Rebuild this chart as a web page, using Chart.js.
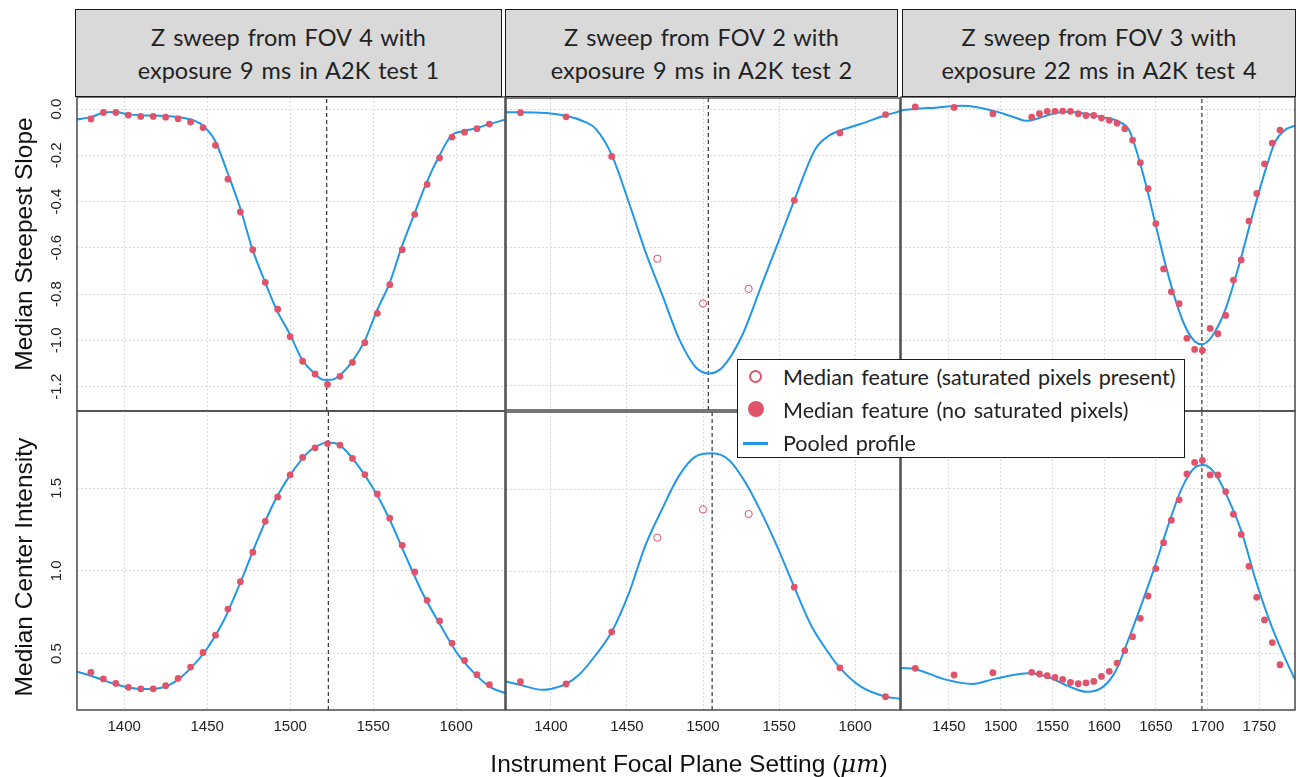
<!DOCTYPE html>
<html>
<head>
<meta charset="utf-8">
<script src="https://cdn.jsdelivr.net/npm/chart.js@4.4.1/dist/chart.umd.min.js"></script>
<style>
  body { margin: 0; width: 1300px; height: 777px; position: relative; overflow: hidden; background: #fff;
         font-family: "Liberation Sans", Arial, sans-serif; color: #111; }
  canvas { position: absolute; }
  .strip { position: absolute; box-sizing: border-box; top: 9px; height: 88px; background: #d9d9d9;
           border: 1.5px solid #1a1a1a; font-family: Lato, sans-serif; font-size: 23.5px; word-spacing: 2px;
           line-height: 33px; text-align: center; padding-top: 11px; color: #222; }
  .ytitle { position: absolute; font-size: 24.5px; white-space: nowrap; transform: translate(-50%, -50%) rotate(-90deg); }
  .xtitle { position: absolute; font-size: 24.5px; white-space: nowrap; transform: translate(-50%, -50%); }
  #legend { position: absolute; left: 737px; top: 359px; width: 448px; height: 99px; box-sizing: border-box;
            background: #fff; border: 1.5px solid #1a1a1a; font-family: Lato, sans-serif; font-size: 21.5px;
            word-spacing: 2px; color: #222; }
  .item { position: absolute; left: 45px; height: 33px; line-height: 33px; white-space: nowrap; }
  .mark { position: absolute; box-sizing: border-box; }
</style>
</head>
<body>
<script>
// facet titles
const stripTitles = [
  ['Z sweep from FOV 4 with', 'exposure 9 ms in A2K test 1'],
  ['Z sweep from FOV 2 with', 'exposure 9 ms in A2K test 2'],
  ['Z sweep from FOV 3 with', 'exposure 22 ms in A2K test 4']
];
const yTitles = ['Median Steepest Slope', 'Median Center Intensity'];
const legendLabels = ['Median feature (saturated pixels present)', 'Median feature (no saturated pixels)', 'Pooled profile'];

// axis limits
const xRangeCol1 = [1371.6, 1629.4];
const xRangeCol2 = [1370.5, 1629.5];
const xRangeCol3 = [1403.7, 1784.5];
const slopeRange = [-1.305, 0.052];
const intensityRange = [0.158, 1.968];

// best focus (dashed lines)
const focusTop = [1522, 1503.5, 1694.5];
const focusBottom = [1523, 1506, 1694.5];

// sweep 1
const zCol1 = [1380, 1387.5, 1395, 1402.5, 1410, 1417.5, 1425, 1432.5, 1440, 1447.5, 1455, 1462.5, 1470, 1477.5, 1485, 1492.5,
  1500, 1507.5, 1515, 1522.5, 1530, 1537.5, 1545, 1552.5, 1560, 1567.5, 1575, 1582.5, 1590, 1597.5, 1605, 1612.5, 1620];
const slopeCol1 = [-0.043, -0.015, -0.015, -0.026, -0.032, -0.032, -0.035, -0.042, -0.056, -0.08, -0.157, -0.303, -0.445, -0.608,
  -0.749, -0.865, -0.984, -1.09, -1.145, -1.19, -1.155, -1.095, -1.01, -0.883, -0.759, -0.608, -0.455, -0.326, -0.211, -0.121,
  -0.1, -0.085, -0.065];
const intensityCol1 = [0.386, 0.346, 0.319, 0.295, 0.286, 0.286, 0.305, 0.35, 0.418, 0.506, 0.611, 0.769, 0.935, 1.113, 1.3,
  1.448, 1.581, 1.687, 1.745, 1.771, 1.761, 1.681, 1.583, 1.466, 1.319, 1.155, 0.994, 0.822, 0.697, 0.563, 0.458, 0.372, 0.311];

// sweep 2
const zCol2 = [1380, 1410, 1440, 1470, 1500, 1530, 1560, 1590, 1620];
const slopeCol2 = [-0.012, -0.03, -0.202, -0.647, -0.842, -0.778, -0.393, -0.1, -0.02];
const intensityCol2 = [0.33, 0.316, 0.633, 1.205, 1.376, 1.348, 0.904, 0.414, 0.239];
const saturatedCol2 = [0, 0, 0, 1, 1, 1, 0, 0, 0];

// sweep 3
const zCol3 = [1417.5, 1455, 1492.5, 1530, 1537.5, 1545, 1552.5, 1560, 1567.5, 1575, 1582.5, 1590, 1597.5, 1605, 1612.5,
  1620, 1627.5, 1635, 1642.5, 1650, 1657.5, 1665, 1672.5, 1680, 1687.5, 1695, 1702.5, 1710, 1717.5, 1725, 1732.5, 1740,
  1747.5, 1755, 1762.5, 1770];
const slopeCol3 = [0.009, 0.007, -0.02, -0.035, -0.02, -0.01, -0.01, -0.009, -0.01, -0.02, -0.028, -0.028, -0.039, -0.049,
  -0.061, -0.085, -0.134, -0.232, -0.344, -0.495, -0.691, -0.79, -0.841, -0.991, -1.039, -1.043, -0.948, -0.971, -0.892,
  -0.739, -0.652, -0.484, -0.365, -0.237, -0.147, -0.091];
const intensityCol3 = [0.41, 0.37, 0.384, 0.386, 0.376, 0.366, 0.355, 0.343, 0.325, 0.317, 0.322, 0.331, 0.361, 0.392, 0.442,
  0.518, 0.602, 0.713, 0.848, 1.014, 1.171, 1.307, 1.43, 1.587, 1.657, 1.669, 1.581, 1.581, 1.48, 1.343, 1.221, 1.028, 0.84,
  0.703, 0.566, 0.432];

// pooled profiles
const slopeCurveZ1 = [1371.6, 1380, 1388, 1395, 1402, 1410, 1425, 1440, 1447.5, 1455, 1462, 1470, 1477, 1485, 1492, 1500, 1507,
  1515, 1520, 1525, 1530, 1537, 1545, 1552, 1560, 1567, 1575, 1582, 1590, 1597, 1605, 1612, 1620, 1629.4];
const slopeCurve1 = [-0.045, -0.035, -0.015, -0.013, -0.022, -0.027, -0.03, -0.045, -0.072, -0.14, -0.27, -0.43, -0.6, -0.75,
  -0.87, -0.975, -1.08, -1.145, -1.17, -1.17, -1.15, -1.095, -1.0, -0.875, -0.75, -0.6, -0.45, -0.32, -0.2, -0.115, -0.095,
  -0.083, -0.065, -0.046];
const intensityCurveZ1 = [1371.6, 1380, 1390, 1400, 1410, 1420, 1430, 1440, 1450, 1460, 1470, 1480, 1490, 1500, 1510, 1515,
  1523, 1530, 1540, 1550, 1560, 1570, 1580, 1590, 1600, 1610, 1620, 1629.4];
const intensityCurve1 = [0.39, 0.365, 0.33, 0.3, 0.285, 0.288, 0.325, 0.41, 0.53, 0.7, 0.93, 1.18, 1.41, 1.58, 1.71, 1.75,
  1.778, 1.76, 1.65, 1.5, 1.31, 1.08, 0.86, 0.68, 0.51, 0.39, 0.3, 0.26];

const slopeCurveZ2 = [1370.5, 1380, 1410, 1423, 1429.5, 1440, 1451.5, 1462.5, 1473.5, 1484.5, 1495.5, 1504, 1512.5, 1525.5,
  1539, 1550, 1560, 1574, 1583, 1590, 1603.5, 1620, 1629.5];
const slopeCurve2 = [-0.01, -0.01, -0.025, -0.054, -0.082, -0.195, -0.407, -0.623, -0.81, -0.999, -1.121, -1.146, -1.121,
  -0.984, -0.753, -0.566, -0.393, -0.169, -0.111, -0.09, -0.061, -0.023, -0.006];
const intensityCurveZ2 = [1370.5, 1380, 1394.5, 1400, 1410, 1418.5, 1429.5, 1440, 1451.5, 1462, 1473, 1484, 1495, 1506, 1517,
  1527.5, 1538.5, 1549.5, 1560, 1571, 1582, 1590, 1603.5, 1620, 1629.5];
const intensityCurve2 = [0.331, 0.31, 0.281, 0.286, 0.316, 0.372, 0.492, 0.633, 0.873, 1.155, 1.376, 1.577, 1.697, 1.717,
  1.677, 1.546, 1.355, 1.135, 0.904, 0.673, 0.512, 0.414, 0.301, 0.239, 0.227];

const slopeCurveZ3 = [1403.7, 1418, 1437, 1463, 1476, 1495, 1511, 1525.5, 1540, 1553, 1566, 1582, 1598, 1614, 1624, 1630,
  1640, 1649.5, 1659, 1669, 1678.5, 1688, 1694.5, 1704, 1717, 1730, 1743, 1756, 1765.5, 1775, 1784.5];
const slopeCurve3 = [-0.006, 0.001, 0.006, 0.014, 0.009, -0.01, -0.032, -0.051, -0.035, -0.017, -0.012, -0.02, -0.035,
  -0.054, -0.09, -0.162, -0.32, -0.494, -0.667, -0.826, -0.941, -1.006, -1.017, -0.984, -0.869, -0.681, -0.465, -0.263,
  -0.14, -0.09, -0.072];
const intensityCurveZ3 = [1403.7, 1417.5, 1447, 1472.5, 1495, 1527, 1546.5, 1566, 1583.5, 1599.5, 1611, 1624, 1636.5, 1649.5,
  1662.5, 1675.5, 1688, 1696, 1707.5, 1720, 1733, 1746, 1759, 1772, 1784.5];
const intensityCurve3 = [0.412, 0.405, 0.342, 0.316, 0.348, 0.38, 0.356, 0.301, 0.268, 0.301, 0.392, 0.593, 0.804, 1.035,
  1.286, 1.506, 1.627, 1.641, 1.587, 1.436, 1.235, 0.954, 0.713, 0.512, 0.342];

const pointColor = '#DF536B';
const lineColor = '#2297E6';

// panel geometry (plot area in page pixels)
const COLS = [{ L: 77, R: 505 }, { L: 505, R: 901 }, { L: 901, R: 1295 }];
const ROWS = [{ T: 97, B: 411 }, { T: 411, B: 710 }];
const PAD = 4;

const panelBox = {
  id: 'panelBox',
  afterDraw(chart) {
    const { ctx, chartArea: a } = chart;
    ctx.save();
    ctx.strokeStyle = '#4a4a4a';
    ctx.lineWidth = 1.5;
    ctx.strokeRect(a.left, a.top, a.right - a.left, a.bottom - a.top);
    ctx.restore();
  }
};

function xy(xs, ys) {
  return xs.map((x, i) => ({ x: x, y: ys[i] }));
}

function makePanel(col, row, xRange, yRange, zs, vals, sat, curveZ, curveV, focus) {
  const c = COLS[col], r = ROWS[row];
  const axisW = col === 0 ? 70 : 0;
  const axisH = row === 1 ? 34 : 0;
  const w = c.R - c.L + axisW + 2 * PAD;
  const h = r.B - r.T + axisH + 2 * PAD;
  const cv = document.createElement('canvas');
  cv.width = w; cv.height = h;
  cv.style.left = (c.L - axisW - PAD) + 'px';
  cv.style.top = (r.T - PAD) + 'px';
  cv.style.width = w + 'px';
  cv.style.height = h + 'px';
  document.body.appendChild(cv);

  const isSat = i => sat && sat[i] === 1;

  new Chart(cv, {
    type: 'scatter',
    data: {
      datasets: [{
        data: xy(zs, vals),
        pointRadius: i => isSat(i.dataIndex) ? 3.6 : 3.4,
        pointBackgroundColor: i => isSat(i.dataIndex) ? 'rgba(255,255,255,0)' : pointColor,
        pointBorderColor: pointColor,
        pointBorderWidth: i => isSat(i.dataIndex) ? 1 : 0,
        showLine: false
      }, {
        data: xy(curveZ, curveV),
        showLine: true,
        borderColor: lineColor,
        borderWidth: 2,
        pointRadius: 0,
        cubicInterpolationMode: 'monotone'
      }, {
        data: [{ x: focus, y: yRange[0] }, { x: focus, y: yRange[1] }],
        showLine: true,
        borderColor: '#333',
        borderWidth: 1.2,
        borderDash: [4, 3],
        pointRadius: 0
      }]
    },
    options: {
      responsive: false,
      animation: false,
      layout: { padding: PAD },
      plugins: { legend: { display: false }, tooltip: { enabled: false } },
      scales: {
        x: {
          type: 'linear',
          min: xRange[0],
          max: xRange[1],
          afterFit: s => { s.height = axisH; s.paddingLeft = 0; s.paddingRight = 0; },
          grid: { color: '#d9d9d9', lineWidth: 1, drawTicks: false },
          border: { display: false, dash: [2, 2] },
          ticks: {
            display: row === 1,
            stepSize: 50,
            includeBounds: false,
            maxRotation: 0,
            autoSkip: false,
            padding: 8,
            color: '#222',
            font: { family: 'Liberation Sans', size: 15 },
            callback: v => String(v)
          }
        },
        y: {
          type: 'linear',
          min: yRange[0],
          max: yRange[1],
          afterFit: s => { s.width = axisW; s.paddingTop = 0; s.paddingBottom = 0; },
          grid: { color: '#d9d9d9', lineWidth: 1, drawTicks: false },
          border: { display: false, dash: [2, 2] },
          ticks: {
            display: col === 0,
            stepSize: row === 0 ? 0.2 : 0.5,
            includeBounds: false,
            minRotation: 90,
            maxRotation: 90,
            crossAlign: 'center',
            padding: row === 0 ? 7 : 9.5,
            color: '#222',
            font: { family: 'Liberation Sans', size: 15 },
            callback: v => (Math.abs(v) < 1e-9 ? 0 : v).toFixed(1)
          }
        }
      }
    },
    plugins: [panelBox]
  });
}

makePanel(0, 0, xRangeCol1, slopeRange, zCol1, slopeCol1, null, slopeCurveZ1, slopeCurve1, focusTop[0]);
makePanel(1, 0, xRangeCol2, slopeRange, zCol2, slopeCol2, saturatedCol2, slopeCurveZ2, slopeCurve2, focusTop[1]);
makePanel(2, 0, xRangeCol3, slopeRange, zCol3, slopeCol3, null, slopeCurveZ3, slopeCurve3, focusTop[2]);
makePanel(0, 1, xRangeCol1, intensityRange, zCol1, intensityCol1, null, intensityCurveZ1, intensityCurve1, focusBottom[0]);
makePanel(1, 1, xRangeCol2, intensityRange, zCol2, intensityCol2, saturatedCol2, intensityCurveZ2, intensityCurve2, focusBottom[1]);
makePanel(2, 1, xRangeCol3, intensityRange, zCol3, intensityCol3, null, intensityCurveZ3, intensityCurve3, focusBottom[2]);

// strips
const stripX = [[75, 502], [505, 898], [902, 1296]];
stripTitles.forEach((t, i) => {
  const d = document.createElement('div');
  d.className = 'strip';
  d.style.left = stripX[i][0] + 'px';
  d.style.width = (stripX[i][1] - stripX[i][0]) + 'px';
  d.innerHTML = t[0] + '<br>' + t[1];
  document.body.appendChild(d);
});

// axis titles
const yt1 = document.createElement('div');
yt1.className = 'ytitle'; yt1.style.left = '24px'; yt1.style.top = '244px'; yt1.textContent = yTitles[0];
document.body.appendChild(yt1);
const yt2 = document.createElement('div');
yt2.className = 'ytitle'; yt2.style.left = '24px'; yt2.style.top = '567px'; yt2.textContent = yTitles[1];
document.body.appendChild(yt2);
const xt = document.createElement('div');
xt.className = 'xtitle'; xt.style.left = '689px'; xt.style.top = '763px';
xt.innerHTML = 'Instrument Focal Plane Setting (<i style="font-family:\'DejaVu Serif\',serif">μm</i>)';
document.body.appendChild(xt);

// legend
const lg = document.createElement('div');
lg.id = 'legend';
lg.innerHTML =
  '<span class="mark" style="left:11px;top:10px;width:13px;height:13px;border:2px solid ' + pointColor + ';border-radius:50%"></span>' +
  '<span class="mark" style="left:10px;top:41px;width:16px;height:16px;background:' + pointColor + ';border-radius:50%"></span>' +
  '<span class="mark" style="left:5px;top:82px;width:25px;height:3px;background:' + lineColor + '"></span>' +
  '<div class="item" style="top:1px">' + legendLabels[0] + '</div>' +
  '<div class="item" style="top:34px">' + legendLabels[1] + '</div>' +
  '<div class="item" style="top:67px">' + legendLabels[2] + '</div>';
document.body.appendChild(lg);
</script>
</body>
</html>
